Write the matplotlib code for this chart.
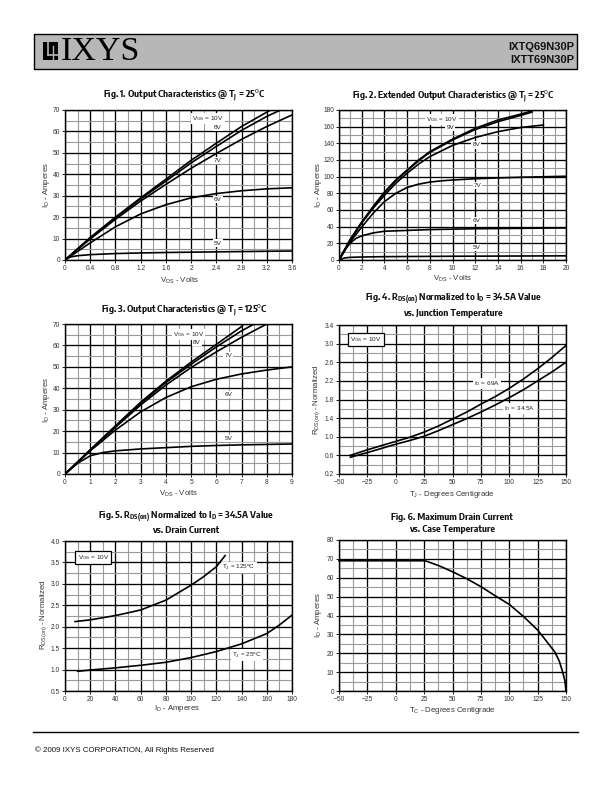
import matplotlib
matplotlib.use("Agg")
import matplotlib.pyplot as plt
from matplotlib.patches import Rectangle
from matplotlib.lines import Line2D
from matplotlib import font_manager

_names = sorted({f.name for f in font_manager.fontManager.ttflist})
_narrow = [n for n in _names if 'Narrow' in n and 'Liberation' in n] + \
          [n for n in _names if 'Condensed' in n and ('DejaVu' in n or 'Sans' in n)]
NARROW = _narrow[0] if _narrow else None

plt.rcParams['font.family'] = ['Liberation Sans', 'DejaVu Sans']
plt.rcParams['mathtext.fontset'] = 'custom'
plt.rcParams['mathtext.rm'] = 'Liberation Sans'
plt.rcParams['mathtext.it'] = 'Liberation Sans:italic'
plt.rcParams['mathtext.bf'] = (NARROW + ':bold') if NARROW else 'Liberation Sans:bold'

# ---------------- data ----------------
# Fig 1 : Output characteristics @ Tj = 25C
f1_v10_x = [0, 0.2, 0.4, 0.8, 1.2, 1.6, 2.0, 2.4, 2.8, 3.26]
f1_v10_y = [0, 5.3, 10.5, 20.0, 29.0, 37.7, 46.5, 54.5, 62.3, 70]
f1_v8_x = [0, 0.2, 0.4, 0.8, 1.2, 1.6, 2.0, 2.4, 2.8, 3.2, 3.42]
f1_v8_y = [0, 5.1, 10.2, 19.7, 28.5, 36.8, 45.3, 53.0, 60.5, 67.0, 70]
f1_v7_x = [0, 0.2, 0.4, 0.8, 1.2, 1.6, 2.0, 2.4, 2.8, 3.2, 3.6]
f1_v7_y = [0, 4.9, 9.8, 19.0, 27.5, 35.3, 42.8, 49.7, 56.3, 62.3, 67.7]
f1_v6_x = [0, 0.2, 0.4, 0.8, 1.2, 1.6, 2.0, 2.4, 2.8, 3.2, 3.6]
f1_v6_y = [0, 4.0, 8.0, 15.5, 21.5, 25.8, 29.0, 31.0, 32.3, 33.2, 33.7]
f1_v5_x = [0, 0.05, 0.1, 0.2, 0.4, 0.8, 1.2, 1.6, 2.4, 3.6]
f1_v5_y = [0, 1.0, 1.5, 2.0, 2.5, 3.0, 3.3, 3.5, 3.8, 4.2]

# Fig 2 : Extended output characteristics @ Tj = 25C
f2_v10_x = [0, 1, 2, 3, 4, 5, 6, 7, 8, 10, 12, 14, 16, 17]
f2_v10_y = [0, 25, 45.5, 64, 81.5, 96, 108, 120, 130, 145, 158, 168, 175, 179]
f2_v9_x = [0, 1, 2, 3, 4, 5, 6, 7, 8, 10, 12, 14, 16, 17]
f2_v9_y = [0, 24.5, 45, 63.5, 80.5, 95, 107, 119, 129, 144, 156.5, 166, 173.5, 177.5]
f2_v8_x = [0, 1, 2, 3, 4, 5, 6, 7, 8, 10, 12, 14, 16, 18]
f2_v8_y = [0, 24, 44.5, 62, 77.5, 92, 104, 115, 124, 137.5, 147, 154, 159, 162]
f2_v7_x = [0, 1, 2, 3, 4, 5, 6, 7, 8, 9, 10, 12, 14, 16, 20]
f2_v7_y = [0, 22, 39.5, 56, 70, 80, 87, 91, 93.5, 95, 96, 97.5, 98.5, 99.3, 100.5]
f2_v6_x = [0, 0.5, 1, 1.5, 2, 3, 4, 6, 8, 10, 12, 16, 20]
f2_v6_y = [0, 12, 20.5, 26, 29, 32.5, 34.5, 35.5, 36.5, 37, 37.5, 38, 38.5]
f2_v5_x = [0, 0.5, 1, 2, 4, 6, 10, 14, 20]
f2_v5_y = [0, 2.5, 3.2, 3.6, 4.0, 4.2, 4.5, 4.7, 5.0]

# Fig 3 : Output characteristics @ Tj = 125C
f3_v10_x = [0, 1, 2, 3, 4, 5, 6, 7, 7.08]
f3_v10_y = [0, 11.3, 22.5, 33.5, 43.3, 52.2, 60.5, 68.8, 70]
f3_v8_x = [0, 1, 2, 3, 4, 5, 6, 7, 7.5]
f3_v8_y = [0, 11.2, 22.2, 33.0, 42.7, 51.2, 59.3, 66.8, 70]
f3_v7_x = [0, 1, 2, 3, 4, 5, 6, 7, 8]
f3_v7_y = [0, 11.0, 21.8, 32.2, 41.5, 49.7, 57.0, 63.8, 70]
f3_v6_x = [0, 1, 2, 3, 4, 5, 6, 7, 8, 9]
f3_v6_y = [0, 10.8, 20.5, 29.0, 35.7, 40.7, 44.2, 46.7, 48.5, 50]
f3_v5_x = [0, 0.5, 1, 1.5, 2, 3, 4, 5, 6, 7, 8, 9]
f3_v5_y = [0, 5.0, 8.5, 10.0, 10.8, 11.7, 12.3, 12.9, 13.3, 13.6, 13.8, 14.0]

# Fig 4 : RDS(on) vs junction temperature
f4_t = [-40, -25, -12.5, 0, 12.5, 25, 37.5, 50, 62.5, 75, 87.5, 100, 112.5, 125, 137.5, 150]
f4_id69 = [0.60, 0.72, 0.81, 0.90, 0.99, 1.10, 1.23, 1.38, 1.53, 1.70, 1.86, 2.04, 2.24, 2.46, 2.70, 2.96]
f4_id345 = [0.56, 0.66, 0.75, 0.84, 0.92, 1.01, 1.13, 1.26, 1.39, 1.53, 1.68, 1.84, 2.01, 2.20, 2.39, 2.60]

# Fig 5 : RDS(on) vs drain current
f5_hot_id = [8, 20, 40, 60, 80, 100, 110, 120, 127]
f5_hot_r = [2.12, 2.16, 2.26, 2.39, 2.62, 2.97, 3.17, 3.40, 3.66]
f5_cold_id = [10, 20, 40, 60, 80, 100, 120, 140, 160, 170, 180]
f5_cold_r = [0.96, 0.99, 1.04, 1.10, 1.17, 1.28, 1.42, 1.60, 1.84, 2.04, 2.27]

# Fig 6 : Maximum drain current vs case temperature
f6_tc = [-50, 26, 37.5, 50, 62.5, 75, 87.5, 100, 112.5, 125, 132, 140, 144, 147, 149, 150]
f6_id = [69, 69, 66.5, 63.2, 59.5, 55.3, 50.5, 45.9, 39.5, 32.3, 27, 20.8, 16, 10.2, 5.5, 0]

# ---------------- figure ----------------
W, H = 612, 792
fig = plt.figure(figsize=(W / 100, H / 100), dpi=100)
fig.patch.set_facecolor('white')


def fx(x):
    return x / W


def fy(y):
    return 1 - y / H


def make_ax(x0, x1, y0, y1):
    return fig.add_axes([fx(x0), fy(y1), (x1 - x0) / W, (y1 - y0) / H])


def style(ax, xmaj, xmin, ymaj, ymin, xlim, ylim, xfmt=None, yfmt=None):
    ax.set_xlim(*xlim)
    ax.set_ylim(*ylim)
    ax.set_xticks(xmaj)
    ax.set_xticks(xmin, minor=True)
    ax.set_yticks(ymaj)
    ax.set_yticks(ymin, minor=True)
    if xfmt:
        ax.set_xticklabels(xfmt)
    if yfmt:
        ax.set_yticklabels(yfmt)
    ax.grid(which='minor', color='#9a9a9a', lw=0.8)
    ax.grid(which='major', color='black', lw=0.95)
    ax.set_axisbelow(True)
    ax.tick_params(which='minor', length=0)
    ax.tick_params(which='major', length=2, width=0.6, labelsize=4.8,
                   labelcolor='#333333', pad=1.5, color='black')
    for s in ax.spines.values():
        s.set_linewidth(1.0)
        s.set_color('black')


def lab(ax, x, y, s, box=False):
    ec = 'black' if box else 'none'
    ax.text(x, y, s, fontsize=4.6, color='#222222', ha='center', va='center',
            bbox=dict(facecolor='white', edgecolor=ec, lw=0.9, pad=1.6 if box else 0.8),
            zorder=5)


LW = 1.2
if NARROW:
    TFS = 6.9
    TFAM = [NARROW, 'Liberation Sans', 'DejaVu Sans']
else:
    TFS = 6.0
    TFAM = ['Liberation Sans', 'DejaVu Sans']

# header
fig.patches.append(Rectangle((fx(34), fy(69)), 543 / W, 35 / H, transform=fig.transFigure,
                             facecolor='#b7b7b7', edgecolor='black', lw=1.0))
# logo square
fig.patches.append(Rectangle((fx(43), fy(59.5)), 15 / W, 18 / H, transform=fig.transFigure,
                             facecolor='black', edgecolor='none'))
fig.lines.append(Line2D([fx(48), fx(48)], [fy(41.5), fy(55)], transform=fig.transFigure,
                        color='#b7b7b7', lw=1.2))
fig.lines.append(Line2D([fx(48), fx(58)], [fy(55), fy(55)], transform=fig.transFigure,
                        color='#b7b7b7', lw=1.2))
fig.lines.append(Line2D([fx(52.5), fx(52.5)], [fy(46), fy(59.5)], transform=fig.transFigure,
                        color='#b7b7b7', lw=1.0))
fig.text(fx(61), fy(60), 'IXYS', family='Liberation Serif', fontsize=24.5, ha='left',
         va='baseline', color='black')
fig.text(fx(574), fy(46.5), 'IXTQ69N30P', family='Liberation Sans', weight='bold',
         fontsize=8.0, ha='right', va='center', color='#111111')
fig.text(fx(574), fy(60), 'IXTT69N30P', family='Liberation Sans', weight='bold',
         fontsize=8.0, ha='right', va='center', color='#111111')

# footer
fig.lines.append(Line2D([fx(33), fx(578)], [fy(732), fy(732)], transform=fig.transFigure,
                        color='black', lw=1.0))
fig.text(fx(35), fy(750), '\u00a9 2009 IXYS CORPORATION, All Rights Reserved',
         family='Liberation Sans', fontsize=5.7, ha='left', va='center', color='#111111')


def title(xc, y, s):
    fig.text(fx(xc), fy(y), s, fontsize=TFS, weight='bold', ha='center', va='center',
             color='#111111', family=TFAM)


def xl(xc, y, s):
    fig.text(fx(xc), fy(y), s, fontsize=5.6, ha='center', va='center', color='#333333',
             family='Liberation Sans')


def yl(x, yc, s):
    fig.text(fx(x), fy(yc), s, fontsize=5.6, ha='center', va='center', color='#333333',
             rotation=90, family='Liberation Sans')


LTX = 184   # centre of left-column titles
RTX = 453   # centre of right-column titles

# ---- Fig 1
ax1 = make_ax(65, 292, 110, 260)
style(ax1, [0, 0.4, 0.8, 1.2, 1.6, 2, 2.4, 2.8, 3.2, 3.6], [0.2 + 0.4 * i for i in range(9)],
      list(range(0, 71, 10)), list(range(5, 70, 10)), (0, 3.6), (0, 70),
      xfmt=['0', '0.4', '0.8', '1.2', '1.6', '2', '2.4', '2.8', '3.2', '3.6'])
for xs, ys in [(f1_v10_x, f1_v10_y), (f1_v8_x, f1_v8_y), (f1_v7_x, f1_v7_y),
               (f1_v6_x, f1_v6_y), (f1_v5_x, f1_v5_y)]:
    ax1.plot(xs, ys, color='black', lw=LW, zorder=3)
lab(ax1, 2.27, 66.2, r'V$_{\rm GS}$ = 10V')
lab(ax1, 2.42, 61.8, '8V')
lab(ax1, 2.42, 46.4, '7V')
lab(ax1, 2.42, 28.3, '6V')
lab(ax1, 2.42, 7.9, '5V')
title(LTX, 95, r'Fig. 1. Output Characteristics @ T$_{\bf J}$ = 25$^{\rm o}$C')
xl(179, 281, r'V$_{\rm DS}$ - Volts')
yl(47, 185, r'I$_{\rm D}$ - Amperes')

# ---- Fig 2
ax2 = make_ax(339, 566, 110, 260)
style(ax2, list(range(0, 21, 2)), list(range(1, 20, 2)),
      list(range(0, 181, 20)), list(range(10, 180, 20)), (0, 20), (0, 180))
for xs, ys in [(f2_v10_x, f2_v10_y), (f2_v9_x, f2_v9_y), (f2_v8_x, f2_v8_y),
               (f2_v7_x, f2_v7_y), (f2_v6_x, f2_v6_y), (f2_v5_x, f2_v5_y)]:
    ax2.plot(xs, ys, color='black', lw=LW, zorder=3)
lab(ax2, 9.05, 169, r'V$_{\rm GS}$ = 10V')
lab(ax2, 9.8, 159, '9V')
lab(ax2, 12.1, 138, '8V')
lab(ax2, 12.2, 89, '7V')
lab(ax2, 12.1, 47.7, '6V')
lab(ax2, 12.1, 15, '5V')
title(RTX, 96, r'Fig. 2. Extended Output Characteristics @ T$_{\bf J}$ = 25$^{\rm o}$C')
xl(452, 279, r'V$_{\rm DS}$ - Volts')
yl(319, 185, r'I$_{\rm D}$ - Amperes')

# ---- Fig 3
ax3 = make_ax(65, 292, 324, 474)
style(ax3, list(range(0, 10)), [0.5 + i for i in range(9)],
      list(range(0, 71, 10)), list(range(5, 70, 10)), (0, 9), (0, 70))
for xs, ys in [(f3_v10_x, f3_v10_y), (f3_v8_x, f3_v8_y), (f3_v7_x, f3_v7_y),
               (f3_v6_x, f3_v6_y), (f3_v5_x, f3_v5_y)]:
    ax3.plot(xs, ys, color='black', lw=LW, zorder=3)
lab(ax3, 4.89, 65.2, r'V$_{\rm GS}$ = 10V')
lab(ax3, 5.22, 61.3, '8V')
lab(ax3, 6.48, 55.2, '7V')
lab(ax3, 6.48, 37.0, '6V')
lab(ax3, 6.48, 16.5, '5V')
title(LTX, 310, r'Fig. 3. Output Characteristics @ T$_{\bf J}$ = 125$^{\rm o}$C')
xl(178, 494, r'V$_{\rm DS}$ - Volts')
yl(47, 400, r'I$_{\rm D}$ - Amperes')

# ---- Fig 4
ax4 = make_ax(339, 566, 325, 474)
style(ax4, list(range(-50, 151, 25)), [-37.5 + 25 * i for i in range(8)],
      [0.2 + 0.4 * i for i in range(9)], [0.4 + 0.4 * i for i in range(8)], (-50, 150), (0.2, 3.4),
      yfmt=['0.2', '0.6', '1.0', '1.4', '1.8', '2.2', '2.6', '3.0', '3.4'])
ax4.plot(f4_t, f4_id69, color='black', lw=LW, zorder=3)
ax4.plot(f4_t, f4_id345, color='black', lw=LW, zorder=3)
lab(ax4, 80, 2.15, r'I$_{\rm D}$ = 69A')
lab(ax4, 109.5, 1.6, r'I$_{\rm D}$ = 34.5A')
lab(ax4, -26.5, 3.09, r'V$_{\rm GS}$ = 10V', box=True)
title(RTX, 299.5, r'Fig. 4. R$_{\bf DS(on)}$ Normalized to I$_{\bf D}$ = 34.5A Value')
title(RTX, 313, 'vs. Junction Temperature')
xl(452, 495, r'T$_{\rm J}$ - Degrees Centigrade')
yl(317, 400, r'R$_{\rm DS(on)}$ - Normalized')

# ---- Fig 5
ax5 = make_ax(65, 292, 541, 691)
style(ax5, list(range(0, 181, 20)), list(range(10, 180, 20)),
      [0.5 * i for i in range(1, 9)], [0.75 + 0.5 * i for i in range(7)], (0, 180), (0.5, 4.0),
      yfmt=['0.5', '1.0', '1.5', '2.0', '2.5', '3.0', '3.5', '4.0'])
ax5.plot(f5_hot_id, f5_hot_r, color='black', lw=LW, zorder=3)
ax5.plot(f5_cold_id, f5_cold_r, color='black', lw=LW, zorder=3)
lab(ax5, 138, 3.39, r'T$_{\rm J}$ = 125$^{\rm o}$C')
lab(ax5, 144, 1.34, r'T$_{\rm J}$ = 25$^{\rm o}$C')
lab(ax5, 22.5, 3.62, r'V$_{\rm GS}$ = 10V', box=True)
title(LTX + 2, 517.5, r'Fig. 5. R$_{\bf DS(on)}$ Normalized to I$_{\bf D}$ = 34.5A Value')
title(LTX + 2, 530.5, 'vs. Drain Current')
xl(177, 709, r'I$_{\rm D}$ - Amperes')
yl(44, 615, r'R$_{\rm DS(on)}$ - Normalized')

# ---- Fig 6
ax6 = make_ax(339, 566, 540, 691)
style(ax6, list(range(-50, 151, 25)), [-37.5 + 25 * i for i in range(8)],
      list(range(0, 81, 10)), list(range(5, 80, 10)), (-50, 150), (0, 80))
ax6.plot(f6_tc, f6_id, color='black', lw=LW, zorder=3, clip_on=False)
title(RTX - 1, 517, 'Fig. 6. Maximum Drain Current')
title(RTX - 1, 529.5, 'vs. Case Temperature')
xl(452, 710, r'T$_{\rm C}$ - Degrees Centigrade')
yl(319, 615, r'I$_{\rm D}$ - Amperes')

fig.savefig('out.png', dpi=100, facecolor='white')
